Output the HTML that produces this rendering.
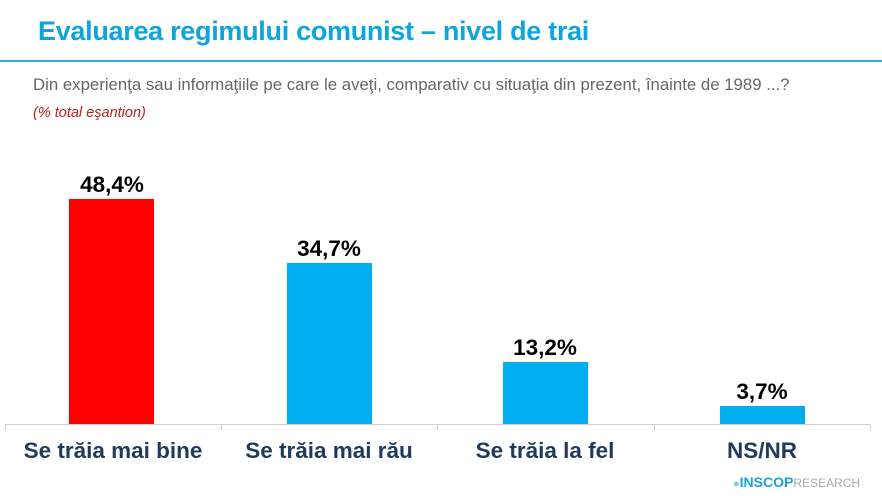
<!DOCTYPE html>
<html><head><meta charset="utf-8"><style>
body{margin:0;width:882px;height:496px;background:#fff;position:relative;overflow:hidden;font-family:"Liberation Sans",sans-serif}
.a{position:absolute;white-space:nowrap}
.bar{position:absolute;width:85px}
.v{position:absolute;width:140px;text-align:center;font-weight:bold;font-size:22.5px;color:#000}
.c{position:absolute;width:216px;text-align:center;font-weight:bold;font-size:22.5px;color:#1f3a5c;top:438px}
.t{position:absolute;top:424px;width:1px;height:6px;background:#d0d0d0}
</style></head><body>
<div class="a" style="left:38px;top:16px;font-size:27px;font-weight:bold;color:#0ea5dc;letter-spacing:-0.3px">Evaluarea regimului comunist – nivel de trai</div>
<div class="a" style="left:0;top:60px;width:882px;height:2px;background:#3aa9d6"></div>
<div class="a" style="left:33px;top:75px;font-size:16.8px;color:#666">Din experienţa sau informaţiile pe care le aveţi, comparativ cu situaţia din prezent, înainte de 1989 ...?</div>
<div class="a" style="left:33px;top:105px;font-size:14.5px;font-style:italic;color:#c0201e">(% total eşantion)</div>
<div class="a" style="left:5px;top:424px;width:866px;height:1px;background:#d0d0d0"></div>
<div class="t" style="left:5px"></div><div class="t" style="left:221px"></div><div class="t" style="left:437px"></div><div class="t" style="left:654px"></div><div class="t" style="left:870px"></div>
<div class="bar" style="left:69px;top:199px;height:225px;background:#ff0000"></div>
<div class="bar" style="left:287px;top:263px;height:161px;background:#00adef"></div>
<div class="bar" style="left:503px;top:362px;height:62px;background:#00adef"></div>
<div class="bar" style="left:720px;top:406px;height:18px;background:#00adef"></div>
<div class="v" style="left:42px;top:172px">48,4%</div>
<div class="v" style="left:259px;top:236px">34,7%</div>
<div class="v" style="left:475px;top:335px">13,2%</div>
<div class="v" style="left:692px;top:379px">3,7%</div>
<div class="c" style="left:5px">Se trăia mai bine</div>
<div class="c" style="left:221px">Se trăia mai rău</div>
<div class="c" style="left:437px">Se trăia la fel</div>
<div class="c" style="left:654px">NS/NR</div>
<div class="a" style="left:733px;top:474px;font-size:14px;color:#1aa3d9"><span style="font-size:11px;color:#8cc">●</span><b>INSCOP</b><span style="font-size:12px;color:#aaa">RESEARCH</span></div>
</body></html>
